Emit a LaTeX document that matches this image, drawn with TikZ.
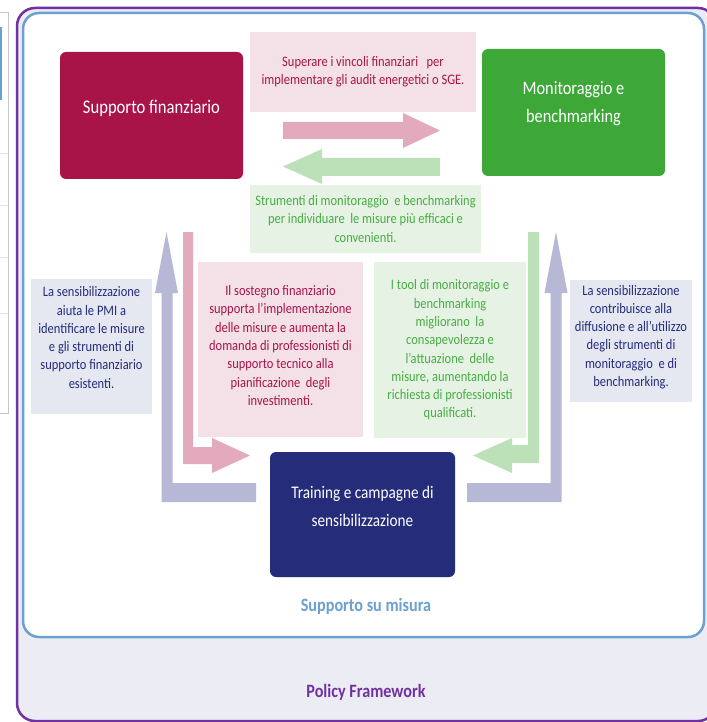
\documentclass[tikz,border=0pt]{standalone}
\usepackage{fontspec}
\setmainfont{Carlito}[FakeStretch=0.86]
\definecolor{crimson}{RGB}{168,19,72}
\definecolor{mongreen}{RGB}{61,168,56}
\definecolor{txtgreen}{RGB}{72,172,68}
\definecolor{navy}{RGB}{37,44,122}
\definecolor{lavarrow}{RGB}{182,184,214}
\definecolor{pinkarrow}{RGB}{227,170,189}
\definecolor{greenarrow}{RGB}{188,224,184}
\definecolor{pinkfill}{RGB}{244,225,232}
\definecolor{greenfill}{RGB}{230,243,228}
\definecolor{greyfill}{RGB}{229,231,241}
\definecolor{outerfill}{RGB}{236,236,245}
\definecolor{policypurple}{RGB}{113,49,161}
\definecolor{frameblue}{RGB}{107,160,208}
\begin{document}
\begin{tikzpicture}
  [x=1pt,y=-1pt,
   bigbox/.style={rounded corners=6pt,minimum width=183pt,minimum height=127pt,inner sep=0pt},
   bigtext/.style={text=white,align=center,font=\fontsize{19}{28}\selectfont},
   txtbox/.style={inner sep=0pt},
   smalltext/.style={align=center,font=\fontsize{14.5}{18.3}\selectfont},
   frametext/.style={font=\bfseries\fontsize{18.8}{20}\selectfont}]
  \useasboundingbox (0,0) rectangle (706,722);

  % cut-off neighbour on the left
  \draw[black!22,fill=white,line width=1pt] (-10,13) rectangle (8,413);
  \draw[frameblue,line width=1.5pt] (0.8,27) -- (0.8,100);
  \foreach \y in {153,205,257,313}
    \draw[black!10] (0,\y) -- (8,\y);

  % frames
  \draw[policypurple,line width=2.5pt,fill=outerfill,rounded corners=18pt]
    (17,8) rectangle (716,721);
  \draw[frameblue,line width=2.5pt,fill=white,rounded corners=16pt]
    (23,13) rectangle (704,637);

  % main boxes
  \node[bigbox,fill=crimson] (fin) at (151.5,115.5) {};
  \node[bigbox,fill=mongreen] (mon) at (573.5,112.5) {};
  \node[bigbox,fill=navy,minimum width=185pt,minimum height=125pt] (train) at (362.5,514.5) {};
  \node[bigtext,font=\fontsize{19.3}{28}\selectfont] (fin-t) at ([yshift=7.5pt]fin.center) {Supporto finanziario};
  \node[bigtext] (mon-t) at ([yshift=8.5pt]mon.center) {Monitoraggio e\\benchmarking};
  \node[bigtext,font=\fontsize{17.7}{28}\selectfont] (train-t) at ([yshift=8.5pt]train.center)
    {Training e campagne di\\sensibilizzazione};

  % text boxes
  \node[txtbox,fill=pinkfill,minimum width=226pt,minimum height=80pt] (vincoli) at (363,72) {};
  \node[smalltext,text=crimson] (vincoli-t) at (vincoli.center)
    {Superare i vincoli finanziari~~~per\\implementare gli audit energetici o SGE.};
  \node[txtbox,fill=greenfill,minimum width=231pt,minimum height=68pt] (strum) at (365.5,219) {};
  \node[smalltext,text=txtgreen] (strum-t) at (strum.center)
    {Strumenti di monitoraggio~ e benchmarking\\per individuare~ le misure più efficaci e\\convenienti.};
  \node[txtbox,fill=greyfill,minimum width=121pt,minimum height=135pt] (sensfin) at (91.5,346.5) {};
  \node[smalltext,text=navy] (sensfin-t) at ([yshift=9pt]sensfin.center)
    {La sensibilizzazione\\aiuta le PMI a\\identificare le misure\\e gli strumenti di\\supporto finanziario\\esistenti.};
  \node[txtbox,fill=pinkfill,minimum width=165pt,minimum height=175pt] (sostegno) at (280.5,349.5) {};
  \node[smalltext,text=crimson] (sostegno-t) at ([yshift=4pt]sostegno.center)
    {Il sostegno finanziario\\supporta l’implementazione\\delle misure e aumenta la\\domanda di professionisti di\\supporto tecnico alla\\pianificazione~ degli\\investimenti.};
  \node[txtbox,fill=greenfill,minimum width=152pt,minimum height=176pt] (tool) at (450,350) {};
  \node[smalltext,text=txtgreen] (tool-t) at (tool.center)
    {I tool di monitoraggio e\\benchmarking\\migliorano~ la\\consapevolezza e\\l'attuazione~ delle\\misure, aumentando la\\richiesta di professionisti\\qualificati.};
  \node[txtbox,fill=greyfill,minimum width=122pt,minimum height=122pt] (sensmon) at (631,341) {};
  \node[smalltext,text=navy] (sensmon-t) at ([yshift=4pt]sensmon.center)
    {La sensibilizzazione\\contribuisce alla\\diffusione e all'utilizzo\\degli strumenti di\\monitoraggio~ e di\\benchmarking.};

  % block arrows
  \fill[pinkarrow] (283,122) -- (403,122) -- (403,113) -- (440,130.5)
    -- (403,148) -- (403,139) -- (283,139) -- cycle;
  \fill[greenarrow] (440,158) -- (322,158) -- (322,149) -- (283,166.5)
    -- (322,184) -- (322,176) -- (440,176) -- cycle;
  \fill[lavarrow] (166.5,232) -- (178,293) -- (172.5,293) -- (172.5,483)
    -- (256,483) -- (256,502) -- (161.5,502) -- (161.5,293) -- (155,293) -- cycle;
  \fill[lavarrow] (556,232) -- (567.5,293) -- (561.7,293) -- (561.7,502)
    -- (467,502) -- (467,483) -- (550.7,483) -- (550.7,293) -- (544.5,293) -- cycle;
  \fill[pinkarrow] (183,232) -- (193,232) -- (193,447) -- (212,447) -- (212,438)
    -- (250,455.5) -- (212,473) -- (212,464) -- (183,464) -- cycle;
  \fill[greenarrow] (539,232) -- (528,232) -- (528,445) -- (512,445) -- (512,438)
    -- (473,455.5) -- (512,473) -- (512,463) -- (539,463) -- cycle;

  % frame labels
  \node[frametext,text=frameblue] (misura) at (366,606) {Supporto su misura};
  \node[frametext,text=policypurple] (policy) at (366,692) {Policy Framework};
\end{tikzpicture}
\end{document}
